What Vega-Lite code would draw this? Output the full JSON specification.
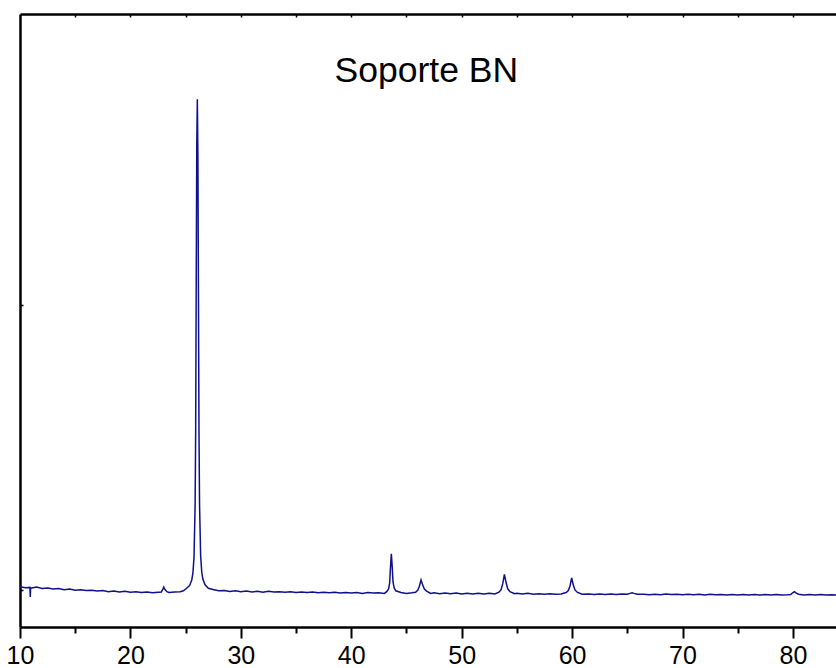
{
  "$schema": "https://vega.github.io/schema/vega-lite/v6.json",
  "autosize": "none",
  "padding": {"left": 20, "top": 14, "right": 0, "bottom": 41},
  "width": 816,
  "height": 613,
  "background": "white",
  "config": {"view": {"stroke": null}, "font": "Liberation Sans"},
  "datasets": {
    "pattern": [
      {"two_theta": 10.0, "intensity": 1011}, {"two_theta": 10.5, "intensity": 1008}, {"two_theta": 10.9, "intensity": 1009},
      {"two_theta": 10.93, "intensity": 975}, {"two_theta": 10.96, "intensity": 1006}, {"two_theta": 11.5, "intensity": 1010},
      {"two_theta": 12.0, "intensity": 1005}, {"two_theta": 12.5, "intensity": 1007}, {"two_theta": 13.0, "intensity": 1003},
      {"two_theta": 13.5, "intensity": 1005}, {"two_theta": 14.0, "intensity": 1001}, {"two_theta": 14.5, "intensity": 1003},
      {"two_theta": 15.0, "intensity": 999}, {"two_theta": 15.5, "intensity": 1001}, {"two_theta": 16.0, "intensity": 998},
      {"two_theta": 16.5, "intensity": 999}, {"two_theta": 17.0, "intensity": 996}, {"two_theta": 17.5, "intensity": 998},
      {"two_theta": 18.0, "intensity": 994}, {"two_theta": 18.5, "intensity": 996}, {"two_theta": 19.0, "intensity": 993},
      {"two_theta": 19.5, "intensity": 995}, {"two_theta": 20.0, "intensity": 992}, {"two_theta": 20.5, "intensity": 994},
      {"two_theta": 21.0, "intensity": 991}, {"two_theta": 21.5, "intensity": 993}, {"two_theta": 22.0, "intensity": 990},
      {"two_theta": 22.5, "intensity": 992}, {"two_theta": 22.8, "intensity": 993}, {"two_theta": 22.95, "intensity": 1004},
      {"two_theta": 23.02, "intensity": 1010}, {"two_theta": 23.1, "intensity": 1003}, {"two_theta": 23.3, "intensity": 994},
      {"two_theta": 23.5, "intensity": 991}, {"two_theta": 24.0, "intensity": 993}, {"two_theta": 24.5, "intensity": 994},
      {"two_theta": 24.8, "intensity": 997}, {"two_theta": 25.06, "intensity": 1005}, {"two_theta": 25.36, "intensity": 1015},
      {"two_theta": 25.56, "intensity": 1036}, {"two_theta": 25.66, "intensity": 1060}, {"two_theta": 25.76, "intensity": 1115},
      {"two_theta": 25.86, "intensity": 1300}, {"two_theta": 25.91, "intensity": 1560}, {"two_theta": 25.96, "intensity": 2080},
      {"two_theta": 26.01, "intensity": 2560}, {"two_theta": 26.06, "intensity": 2722}, {"two_theta": 26.11, "intensity": 2530},
      {"two_theta": 26.16, "intensity": 2050}, {"two_theta": 26.21, "intensity": 1560}, {"two_theta": 26.26, "intensity": 1300},
      {"two_theta": 26.36, "intensity": 1120}, {"two_theta": 26.46, "intensity": 1062}, {"two_theta": 26.56, "intensity": 1038},
      {"two_theta": 26.76, "intensity": 1018}, {"two_theta": 27.06, "intensity": 1006}, {"two_theta": 27.56, "intensity": 1001},
      {"two_theta": 28.0, "intensity": 997}, {"two_theta": 28.5, "intensity": 998}, {"two_theta": 29.0, "intensity": 995},
      {"two_theta": 29.5, "intensity": 997}, {"two_theta": 30.0, "intensity": 994}, {"two_theta": 30.5, "intensity": 996},
      {"two_theta": 31.0, "intensity": 993}, {"two_theta": 31.5, "intensity": 995}, {"two_theta": 32.0, "intensity": 992},
      {"two_theta": 32.5, "intensity": 995}, {"two_theta": 33.0, "intensity": 993}, {"two_theta": 33.5, "intensity": 994},
      {"two_theta": 34.0, "intensity": 992}, {"two_theta": 34.5, "intensity": 994}, {"two_theta": 35.0, "intensity": 991},
      {"two_theta": 35.5, "intensity": 993}, {"two_theta": 36.0, "intensity": 991}, {"two_theta": 36.5, "intensity": 993},
      {"two_theta": 37.0, "intensity": 990}, {"two_theta": 37.5, "intensity": 992}, {"two_theta": 38.0, "intensity": 990},
      {"two_theta": 38.5, "intensity": 992}, {"two_theta": 39.0, "intensity": 989}, {"two_theta": 39.5, "intensity": 991},
      {"two_theta": 40.0, "intensity": 989}, {"two_theta": 40.5, "intensity": 991}, {"two_theta": 41.0, "intensity": 988},
      {"two_theta": 41.5, "intensity": 991}, {"two_theta": 42.0, "intensity": 989}, {"two_theta": 42.5, "intensity": 990},
      {"two_theta": 43.0, "intensity": 988}, {"two_theta": 43.23, "intensity": 995}, {"two_theta": 43.38, "intensity": 1004},
      {"two_theta": 43.48, "intensity": 1025}, {"two_theta": 43.55, "intensity": 1078}, {"two_theta": 43.63, "intensity": 1127},
      {"two_theta": 43.71, "intensity": 1081}, {"two_theta": 43.78, "intensity": 1029}, {"two_theta": 43.88, "intensity": 1008},
      {"two_theta": 44.03, "intensity": 997}, {"two_theta": 44.5, "intensity": 991}, {"two_theta": 45.0, "intensity": 988},
      {"two_theta": 45.5, "intensity": 990}, {"two_theta": 45.82, "intensity": 992}, {"two_theta": 46.02, "intensity": 999},
      {"two_theta": 46.17, "intensity": 1013}, {"two_theta": 46.32, "intensity": 1035}, {"two_theta": 46.47, "intensity": 1017},
      {"two_theta": 46.62, "intensity": 1003}, {"two_theta": 46.82, "intensity": 996}, {"two_theta": 47.2, "intensity": 988},
      {"two_theta": 47.5, "intensity": 990}, {"two_theta": 48.0, "intensity": 987}, {"two_theta": 48.5, "intensity": 989},
      {"two_theta": 49.0, "intensity": 987}, {"two_theta": 49.5, "intensity": 989}, {"two_theta": 50.0, "intensity": 986},
      {"two_theta": 50.5, "intensity": 988}, {"two_theta": 51.0, "intensity": 986}, {"two_theta": 51.5, "intensity": 988},
      {"two_theta": 52.0, "intensity": 986}, {"two_theta": 52.5, "intensity": 988}, {"two_theta": 53.0, "intensity": 986},
      {"two_theta": 53.37, "intensity": 992}, {"two_theta": 53.57, "intensity": 1001}, {"two_theta": 53.72, "intensity": 1022},
      {"two_theta": 53.87, "intensity": 1055}, {"two_theta": 54.02, "intensity": 1026}, {"two_theta": 54.17, "intensity": 1004},
      {"two_theta": 54.37, "intensity": 994}, {"two_theta": 54.8, "intensity": 987}, {"two_theta": 55.0, "intensity": 988},
      {"two_theta": 55.5, "intensity": 986}, {"two_theta": 56.0, "intensity": 988}, {"two_theta": 56.5, "intensity": 985},
      {"two_theta": 57.0, "intensity": 987}, {"two_theta": 57.5, "intensity": 985}, {"two_theta": 58.0, "intensity": 987},
      {"two_theta": 58.5, "intensity": 985}, {"two_theta": 59.0, "intensity": 986}, {"two_theta": 59.46, "intensity": 991},
      {"two_theta": 59.66, "intensity": 998}, {"two_theta": 59.81, "intensity": 1014}, {"two_theta": 59.96, "intensity": 1042},
      {"two_theta": 60.11, "intensity": 1017}, {"two_theta": 60.26, "intensity": 1000}, {"two_theta": 60.46, "intensity": 992},
      {"two_theta": 60.9, "intensity": 985}, {"two_theta": 61.5, "intensity": 986}, {"two_theta": 62.0, "intensity": 984},
      {"two_theta": 62.5, "intensity": 986}, {"two_theta": 63.0, "intensity": 984}, {"two_theta": 63.5, "intensity": 986},
      {"two_theta": 64.0, "intensity": 984}, {"two_theta": 64.5, "intensity": 986}, {"two_theta": 65.0, "intensity": 985},
      {"two_theta": 65.25, "intensity": 988}, {"two_theta": 65.43, "intensity": 990}, {"two_theta": 65.6, "intensity": 988},
      {"two_theta": 65.9, "intensity": 985}, {"two_theta": 66.5, "intensity": 985}, {"two_theta": 67.0, "intensity": 983},
      {"two_theta": 67.5, "intensity": 985}, {"two_theta": 68.0, "intensity": 983}, {"two_theta": 68.5, "intensity": 986},
      {"two_theta": 69.0, "intensity": 984}, {"two_theta": 69.5, "intensity": 985}, {"two_theta": 70.0, "intensity": 983},
      {"two_theta": 70.5, "intensity": 985}, {"two_theta": 71.0, "intensity": 983}, {"two_theta": 71.5, "intensity": 985},
      {"two_theta": 72.0, "intensity": 982}, {"two_theta": 72.5, "intensity": 985}, {"two_theta": 73.0, "intensity": 983},
      {"two_theta": 73.5, "intensity": 984}, {"two_theta": 74.0, "intensity": 982}, {"two_theta": 74.5, "intensity": 984},
      {"two_theta": 75.0, "intensity": 982}, {"two_theta": 75.5, "intensity": 984}, {"two_theta": 76.0, "intensity": 982},
      {"two_theta": 76.5, "intensity": 984}, {"two_theta": 77.0, "intensity": 982}, {"two_theta": 77.5, "intensity": 984},
      {"two_theta": 78.0, "intensity": 982}, {"two_theta": 78.5, "intensity": 984}, {"two_theta": 79.0, "intensity": 982},
      {"two_theta": 79.5, "intensity": 983}, {"two_theta": 79.8, "intensity": 984}, {"two_theta": 79.98, "intensity": 990},
      {"two_theta": 80.13, "intensity": 994}, {"two_theta": 80.28, "intensity": 990}, {"two_theta": 80.5, "intensity": 985},
      {"two_theta": 81.0, "intensity": 982}, {"two_theta": 81.5, "intensity": 984}, {"two_theta": 82.0, "intensity": 982},
      {"two_theta": 82.5, "intensity": 984}, {"two_theta": 83.0, "intensity": 982}, {"two_theta": 83.5, "intensity": 983},
      {"two_theta": 84.0, "intensity": 982}
    ],
    "frame": [{"two_theta": 10}, {"two_theta": 83.9}],
    "heading": [{"two_theta": 46.8, "intensity": 2822, "label": "Soporte BN"}]
  },
  "resolve": {"axis": {"x": "independent", "y": "independent"}},
  "layer": [
    {
      "data": {"name": "pattern"},
      "mark": {"type": "line", "color": "#10108c", "strokeWidth": 1.5, "clip": true},
      "encoding": {
        "x": {
          "field": "two_theta", "type": "quantitative",
          "scale": {"domain": [10, 83.9], "nice": false, "zero": false},
          "axis": {
            "orient": "bottom", "title": null, "grid": false,
            "values": [10, 15, 20, 25, 30, 35, 40, 45, 50, 55, 60, 65, 70, 75, 80],
            "labelExpr": "datum.value % 10 === 0 ? datum.label : ''",
            "labelFont": "Liberation Sans", "labelFontSize": 25, "labelColor": "black",
            "labelPadding": 5, "labelFlush": false, "labelOverlap": false,
            "domainColor": "black", "domainWidth": 2.5,
            "tickColor": "black", "tickWidth": 2,
            "tickSize": {"condition": {"test": "datum.value % 10 === 0", "value": 11}, "value": 6}
          }
        },
        "y": {
          "field": "intensity", "type": "quantitative",
          "scale": {"domain": [870, 3021], "nice": false, "zero": false},
          "axis": {
            "orient": "left", "title": null, "grid": false, "labels": false,
            "values": [1000, 2000],
            "domainColor": "black", "domainWidth": 2.5,
            "tickColor": "black", "tickWidth": 1.5, "tickSize": -3
          }
        }
      }
    },
    {
      "data": {"name": "frame"},
      "mark": {"type": "rule", "strokeOpacity": 0},
      "encoding": {
        "x": {
          "field": "two_theta", "type": "quantitative",
          "axis": {
            "orient": "top", "title": null, "grid": false, "labels": false,
            "values": [15, 20, 25, 30, 35, 40, 45, 50, 55, 60, 65, 70, 75, 80],
            "domainColor": "black", "domainWidth": 2.5,
            "tickColor": "black", "tickWidth": 1.5, "tickSize": -3
          }
        }
      }
    },
    {
      "data": {"name": "heading"},
      "mark": {"type": "text", "font": "Liberation Sans", "fontSize": 35.5, "color": "black", "align": "center", "baseline": "middle"},
      "encoding": {
        "x": {"field": "two_theta", "type": "quantitative", "axis": null},
        "y": {"field": "intensity", "type": "quantitative", "axis": null},
        "text": {"field": "label"}
      }
    }
  ]
}
